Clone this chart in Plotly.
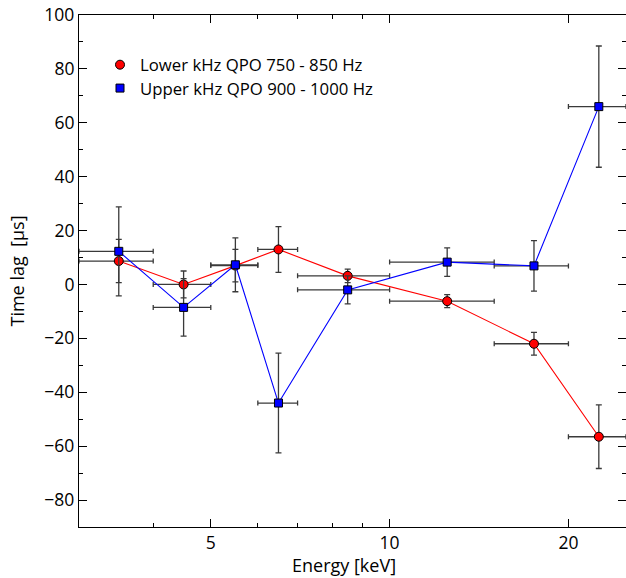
import numpy as np
import plotly.graph_objects as go

# Energy bins (keV): centres and half-widths
energy = [3.5, 4.5, 5.5, 6.5, 8.5, 12.5, 17.5, 22.5]
energy_err = [0.5, 0.5, 0.5, 0.5, 1.5, 2.5, 2.5, 2.5]

# Time lags (microseconds) and 1-sigma errors
lower_lag = [8.7, 0.0, 7.0, 13.0, 3.2, -6.2, -22.0, -56.5]
lower_err = [8.0, 5.0, 6.0, 8.5, 2.5, 2.4, 4.2, 11.8]
upper_lag = [12.3, -8.5, 7.3, -44.0, -2.0, 8.3, 6.9, 66.0]
upper_err = [16.5, 10.7, 10.0, 18.5, 5.2, 5.3, 9.4, 22.5]

lower_name = "Lower kHz QPO 750 - 850 Hz"
upper_name = "Upper kHz QPO 900 - 1000 Hz"

x_major = [5, 10, 20]
x_minor = [4, 6, 7, 8, 9]
y_major = list(range(-80, 101, 20))

FONT = "Open Sans"
FS = 18
TICK_FS = 17.5
LEGEND_FS = 16.75
ERR_COLOR = "#3a3a3a"

fig = go.Figure()


def add_series(y, yerr, color, symbol, size, name, legend_id):
    fig.add_trace(go.Scatter(
        x=energy, y=y, mode="lines+markers",
        line=dict(color=color, width=1.1),
        marker=dict(symbol=symbol, size=size, color=color,
                    line=dict(color="black", width=1)),
        error_x=dict(type="data", array=energy_err, color=ERR_COLOR,
                     thickness=1.3, width=2.5),
        error_y=dict(type="data", array=yerr, color=ERR_COLOR,
                     thickness=1.3, width=3),
        showlegend=False,
    ))
    # marker-only legend entry
    fig.add_trace(go.Scatter(
        x=[None], y=[None], mode="markers", name=name,
        marker=dict(symbol=symbol, size=size, color=color,
                    line=dict(color="black", width=1)),
        showlegend=True, legend=legend_id,
    ))


add_series(lower_lag, lower_err, "#ff0000", "circle", 9, lower_name, "legend")
add_series(upper_lag, upper_err, "#0000ff", "square", 8, upper_name, "legend2")

axis_common = dict(
    showline=True, linecolor="black", linewidth=1.2, mirror="ticks",
    ticks="inside", tickcolor="black", tickwidth=1.2, ticklen=8,
    showgrid=False, zeroline=False,
    tickfont=dict(family=FONT, size=TICK_FS, color="black"),
)

fig.update_xaxes(
    type="log", range=[np.log10(3), np.log10(25)],
    tickmode="array", tickvals=x_major, ticktext=[str(v) for v in x_major],
    minor=dict(tickmode="array", tickvals=x_minor, ticks="inside",
               ticklen=4, tickcolor="black", tickwidth=1.2, showgrid=False),
    **axis_common,
)
fig.update_yaxes(
    range=[-90, 100],
    tickmode="array", tickvals=y_major,
    minor=dict(tickmode="linear", tick0=0, dtick=10, ticks="inside",
               ticklen=4, tickcolor="black", tickwidth=1.2, showgrid=False),
    title=dict(text="Time lag  [μs]", font=dict(family=FONT, size=FS, color="black"),
               standoff=15),
    **axis_common,
)

fig.add_annotation(
    text="Energy [keV]", xref="paper", yref="paper", x=0.4845, y=0,
    yshift=-24, xanchor="center", yanchor="top", showarrow=False,
    font=dict(family=FONT, size=FS, color="black"),
)

legend_style = dict(xanchor="left", yanchor="top", bgcolor="rgba(0,0,0,0)",
                    font=dict(family=FONT, size=LEGEND_FS, color="black"))

fig.update_layout(
    width=626, height=578,
    margin=dict(l=79, r=0, t=15, b=51),
    paper_bgcolor="white", plot_bgcolor="white",
    font=dict(family=FONT, size=FS, color="black"),
    legend=dict(x=0.0384, y=0.9369, **legend_style),
    legend2=dict(x=0.0384, y=0.8912, **legend_style),
)

fig.write_html("out.html")
